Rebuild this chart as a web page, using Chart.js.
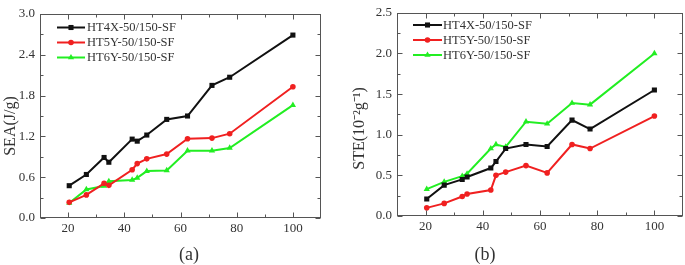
<!DOCTYPE html>
<html><head><meta charset="utf-8">
<script src="https://cdn.jsdelivr.net/npm/chart.js@4/dist/chart.umd.min.js"></script>
<style>
html,body{margin:0;padding:0;background:#fff;}
#wrap{position:relative;width:685px;height:265px;overflow:hidden;}
.pane{position:absolute;top:0;width:340px;height:265px;}
.cap{position:absolute;top:244px;width:40px;height:20px;line-height:20px;text-align:center;font:18px "Liberation Serif",serif;color:#333;}
</style></head><body>
<div id="wrap">
 <div class="pane" style="left:0"><canvas id="ca" width="340" height="265"></canvas></div>
 <div class="pane" style="left:345px"><canvas id="cb" width="340" height="265"></canvas></div>
 <div class="cap" style="left:169px">(a)</div>
 <div class="cap" style="left:465px">(b)</div>
</div>
<script>
// ---- data ----
const seriesNames = ["HT4X-50/150-SF", "HT5Y-50/150-SF", "HT6Y-50/150-SF"];
const xValues = [20.4, 26.5, 32.8, 34.5, 42.8, 44.6, 48.0, 55.1, 62.5, 71.2, 77.5, 100];
// (a) SEA (J/g)
const seaHT4X = [0.475, 0.64, 0.89, 0.82, 1.16, 1.13, 1.22, 1.45, 1.50, 1.95, 2.07, 2.69];
const seaHT5Y = [0.23, 0.34, 0.51, 0.48, 0.71, 0.80, 0.87, 0.94, 1.165, 1.175, 1.24, 1.93];
const seaHT6Y = [0.22, 0.42, 0.47, 0.54, 0.56, 0.59, 0.69, 0.70, 0.99, 0.99, 1.03, 1.66];
// (b) STE (10^-2 g^-1)
const steHT4X = [0.21, 0.38, 0.45, 0.48, 0.59, 0.67, 0.83, 0.88, 0.855, 1.18, 1.07, 1.55];
const steHT5Y = [0.10, 0.155, 0.24, 0.27, 0.32, 0.50, 0.54, 0.62, 0.53, 0.88, 0.83, 1.23];
const steHT6Y = [0.33, 0.42, 0.49, 0.52, 0.83, 0.88, 0.85, 1.16, 1.135, 1.39, 1.37, 2.00];
const xTicks = [20, 40, 60, 80, 100];
const yTicksA = [0, 0.6, 1.2, 1.8, 2.4, 3.0];
const yTicksB = [0, 0.5, 1.0, 1.5, 2.0, 2.5];

// ---- styles ----
const colors = ["#111111", "#f02020", "#22ee22"];
const styles = ["rect", "circle", "triangle"];
const radii = [3.6, 2.8, 3.6];
const SERIF = '"Liberation Serif", "Times New Roman", serif';

function makeDatasets(arrs){
  return arrs.map((arr, i) => ({
    label: seriesNames[i],
    data: arr.map((v, k) => ({x: xValues[k], y: v})),
    showLine: true,
    borderColor: colors[i],
    backgroundColor: colors[i],
    borderWidth: 2,
    pointStyle: styles[i],
    pointRadius: radii[i],
    pointBorderWidth: 0,
    pointBackgroundColor: colors[i],
    tension: 0
  }));
}

const framePlugin = {
  id: 'frame',
  afterDraw(chart, args, o){
    const {ctx, chartArea: a, scales: {x, y}} = chart;
    ctx.save();
    ctx.strokeStyle = '#555';
    ctx.lineWidth = 1;
    const L = Math.round(a.left) + 0.5, R = Math.round(a.right) - 0.5;
    const T = Math.round(a.top) + 0.5, B = Math.round(a.bottom) - 0.5;
    ctx.strokeRect(L, T, R - L, B - T);
    function ticksOf(scale, majors){
      const out = [];
      const step = majors[1] - majors[0];
      majors.forEach(v => { if (v >= scale.min && v <= scale.max) out.push([v, 5]); });
      for (let v = majors[0] - step/2; v <= scale.max + 1e-9; v += step){
        if (v > scale.min + 1e-9 && v < scale.max - 1e-9) out.push([v, 3]);
      }
      return out;
    }
    ctx.beginPath();
    ticksOf(x, o.xMaj).forEach(([v, len]) => {
      const px = Math.round(x.getPixelForValue(v)) + 0.5;
      ctx.moveTo(px, B); ctx.lineTo(px, B - len);
      ctx.moveTo(px, T); ctx.lineTo(px, T + len);
    });
    ticksOf(y, o.yMaj).forEach(([v, len]) => {
      const py = Math.round(y.getPixelForValue(v)) + 0.5;
      ctx.moveTo(L, py); ctx.lineTo(L + len, py);
      ctx.moveTo(R, py); ctx.lineTo(R - len, py);
    });
    ctx.stroke();
    // legend
    chart.data.datasets.forEach((ds, i) => {
      const yy = o.ly0 + i * o.ldy;
      ctx.beginPath();
      ctx.strokeStyle = ds.borderColor;
      ctx.lineWidth = 2;
      ctx.moveTo(o.lx0, yy); ctx.lineTo(o.lx1, yy);
      ctx.stroke();
      ctx.fillStyle = ds.backgroundColor;
      Chart.helpers.drawPoint(ctx, {pointStyle: ds.pointStyle, radius: ds.pointRadius, rotation: 0, borderWidth: 0}, (o.lx0 + o.lx1) / 2, yy);
      ctx.fillStyle = '#333';
      ctx.font = '12.5px ' + SERIF;
      ctx.textBaseline = 'middle';
      ctx.textAlign = 'left';
      ctx.fillText(ds.label, o.tx, yy + 0.5);
    });
    ctx.restore();
  }
};

function makeChart(id, arrs, yMax, yStep, yMajors, yTitle, geo){
  return new Chart(document.getElementById(id), {
    type: 'scatter',
    data: { datasets: makeDatasets(arrs) },
    plugins: [framePlugin],
    options: {
      responsive: false,
      animation: false,
      events: [],
      layout: { autoPadding: false, padding: { left: 0, right: geo.padR, top: geo.top, bottom: 0 } },
      plugins: {
        legend: { display: false },
        tooltip: { enabled: false },
        frame: { xMaj: xTicks, yMaj: yMajors, lx0: geo.lx0, lx1: geo.lx1, tx: geo.tx, ly0: geo.ly0, ldy: geo.ldy }
      },
      scales: {
        x: {
          type: 'linear', min: 10, max: 110,
          afterBuildTicks: s => { s.ticks = xTicks.map(v => ({value: v})); },
          afterFit: s => { s.height = geo.xH; },
          grid: { display: false, drawTicks: false },
          border: { display: false },
          ticks: { padding: 3, color: '#333', font: { family: SERIF, size: 13 }, maxRotation: 0 }
        },
        y: {
          type: 'linear', min: 0, max: yMax,
          afterBuildTicks: s => { s.ticks = yMajors.map(v => ({value: v})); },
          afterFit: s => { s.width = geo.yW; },
          grid: { display: false, drawTicks: false },
          border: { display: false },
          ticks: { padding: 5, color: '#333', font: { family: SERIF, size: 13 }, callback: v => Number(v).toFixed(1) },
          title: { display: true, text: yTitle, color: '#333', font: { family: SERIF, size: 16 }, padding: { top: geo.tPad, bottom: 0 } }
        }
      }
    }
  });
}

makeChart('ca', [seaHT4X, seaHT5Y, seaHT6Y], 3.0, 0.6, yTicksA, 'SEA(J/g)     ',
  { padR: 19, top: 14, xH: 47, yW: 40, tPad: 1, lx0: 57, lx1: 85, tx: 87, ly0: 27.5, ldy: 15 });
makeChart('cb', [steHT4X, steHT5Y, steHT6Y], 2.5, 0.5, yTicksB, 'STE(10\u207B\u00B2g\u207B\u00B9)       ',
  { padR: 2, top: 9, xH: 49, yW: 52, tPad: 5, lx0: 68, lx1: 97, tx: 98, ly0: 25, ldy: 15 });
</script>
</body></html>
